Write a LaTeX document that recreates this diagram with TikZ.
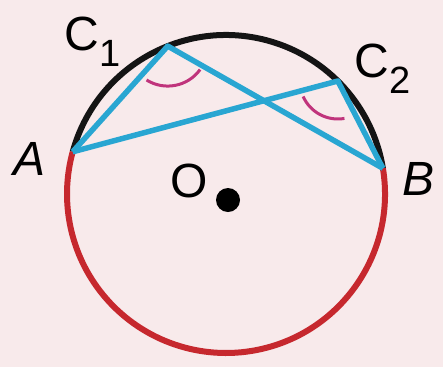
\documentclass[tikz,border=0pt]{standalone}
\usepackage{fontspec}
\setmainfont{Liberation Sans}
\usetikzlibrary{calc}
\definecolor{bgpink}{RGB}{248,234,235}
\definecolor{arcred}{RGB}{198,40,46}
\definecolor{chordcyan}{RGB}{41,166,210}
\definecolor{anglemag}{RGB}{192,52,124}
\newcommand{\lbl}[2]{#1\kern1pt\raisebox{-16pt}{\fontsize{38}{38}\selectfont #2}}
\tikzset{
  lettr/.style={inner sep=0pt, anchor=base west, font=\fontsize{48}{48}\selectfont},
  chord/.style={chordcyan, line width=5.5pt, line join=round},
  anglemark/.style={anglemag, line width=3pt},
}
\begin{document}
\begin{tikzpicture}[x=1pt, y=-1pt]
\fill[bgpink] (0,0) rectangle (443,367);
\useasboundingbox (0,0) rectangle (443,367);
% --- Circle and points ---
\coordinate (ctr) at (226,194);
\path (ctr) ++(-164.6:159) coordinate (A);
\path (ctr) ++(-9.3:159) coordinate (B);
\path (ctr) ++(-111.5:159) coordinate (C1);
\path (ctr) ++(-45.3:159) coordinate (C2);
\draw[line width=6pt, black!92] (A) arc[start angle=-164.6, end angle=-9.3, radius=159];
\draw[line width=6pt, arcred] (B) arc[start angle=-9.3, end angle=195.4, radius=159];
% --- Inscribed angles ---
\draw[chord] (A) -- (C1) -- (B);
\draw[chord] (A) -- (C2) -- (B);
\draw[anglemark] ($(C1)+(36:40)$) arc[start angle=36, end angle=122, radius=40];
\draw[anglemark] ($(C2)+(80:38)$) arc[start angle=80, end angle=156, radius=38];
% --- Labels ---
\node[circle, fill=black, inner sep=0pt, minimum size=24pt] (Odot) at (228,200) {};
\node[lettr] (Olbl) at (170,197) {O};
\node[lettr] (Albl) at (13,175) {\itshape A};
\node[lettr] (Blbl) at (402,195) {\itshape B};
\node[lettr] (C1lbl) at (64,50) {\lbl{C}{1}};
\node[lettr] (C2lbl) at (354,77) {\lbl{C}{2}};
\end{tikzpicture}
\end{document}
